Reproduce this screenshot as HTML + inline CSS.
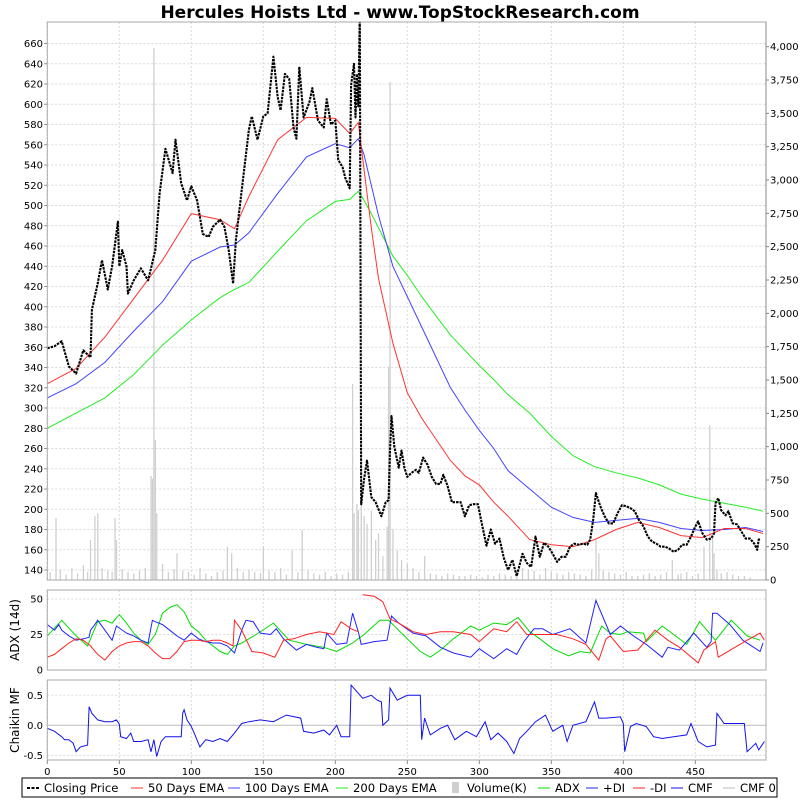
<!DOCTYPE html>
<html><head><meta charset="utf-8"><style>
html,body{margin:0;padding:0;background:#fff}
svg{display:block;font-family:"DejaVu Sans","Liberation Sans",sans-serif}
</style></head><body>
<svg id="chart" width="800" height="800" viewBox="0 0 800 800" xmlns="http://www.w3.org/2000/svg">
<rect width="800" height="800" fill="#fff"/>
<text x="400" y="18" text-anchor="middle" font-size="17" font-weight="bold">Hercules Hoists Ltd - www.TopStockResearch.com</text>
<defs>
<clipPath id="cMain"><rect x="47.3" y="22" width="719" height="558"/></clipPath>
<clipPath id="cAdx"><rect x="47.3" y="590" width="719" height="80"/></clipPath>
<clipPath id="cCmf"><rect x="47.3" y="680" width="719" height="80"/></clipPath>
</defs>
<g id="grid"></g>
<g id="marks"></g>
<g id="axes"></g>
<g id="legend"></g>
</svg>
<script>
// ---------- data ----------
const priceDays = [0,5,10,15,20,25,30,31,35,38,42,45,49,50,52,55,56,60,65,70,75,78,82,87,89,93,97,100,104,108,112,115,120,123,126,129,131,135,140,142,146,150,153,157,160,162,165,168,171,173,175,178,182,184,188,192,194,197,200,202,205,207,210,211,213,214,215,216,217,218,220,222,225,228,232,235,237,238,239,241,244,246,248,250,253,256,258,261,264,267,270,273,275,278,281,284,287,290,293,296,299,302,305,308,311,314,317,320,323,326,330,333,336,339,342,345,348,351,354,357,360,363,366,369,372,375,377,379,381,384,387,390,393,396,399,402,405,408,411,414,417,420,423,426,429,432,435,438,441,444,447,450,452,455,458,461,463,464,466,468,471,473,476,479,482,485,488,491,493,494,495];
const closePrice = [359,361,366,341,334,357,350,397,423,446,417,440,484,440,456,440,413,426,438,426,456,512,556,532,565,522,505,519,505,472,469,479,486,479,456,423,466,515,575,588,565,588,591,647,607,594,630,625,577,566,637,587,602,616,584,577,605,580,584,545,538,527,517,619,640,587,630,598,690,205,230,248,212,207,193,207,209,258,292,262,241,258,241,232,236,239,236,251,244,232,225,225,234,223,207,207,207,193,204,205,205,184,164,180,166,171,152,140,150,134,156,147,143,173,153,167,163,156,148,153,153,163,166,165,166,165,170,189,216,203,193,186,186,196,204,203,201,198,189,183,173,168,166,163,163,161,158,160,165,165,173,183,188,176,170,171,176,206,211,199,194,198,186,185,178,171,171,166,160,170,171];

const emaDays = [0,20,40,60,80,100,120,130,140,160,180,200,210,216,220,225,230,240,250,260,270,280,290,300,310,320,335,350,365,380,395,410,425,440,455,470,485,497];
const ema50  = [324,339,370,408,446,492,486,477,509,565,587,586,571,582,535,478,428,364,315,290,269,248,233,224,207,193,170,165,163,170,180,187,182,174,172,181,181,176];
const ema100 = [310,324,345,376,405,445,459,461,473,512,548,561,557,566,550,520,490,440,410,380,350,320,298,278,260,238,220,202,192,187,189,191,187,181,179,180,182,178];
const ema200 = [280,295,310,333,362,387,409,417,424,455,485,504,506,514,505,492,478,450,431,410,391,372,357,342,328,313,295,272,253,242,236,231,224,215,210,206,202,198];

const volDays = [2,6,9,13,17,21,25,28,30,33,35,38,42,45,47,48,52,56,60,64,68,72,73,74,75,76,80,84,88,90,94,98,102,106,110,114,118,122,125,128,132,136,140,144,148,150,154,158,162,166,170,174,177,181,185,189,193,197,201,205,209,212,213,215,216,218,220,222,225,228,230,233,236,237,238,240,243,246,250,254,258,262,266,270,274,278,282,286,290,294,298,302,306,310,314,318,322,326,330,334,338,342,346,350,354,358,362,366,370,374,378,381,383,386,390,394,398,402,406,410,414,418,422,426,430,434,438,440,444,448,452,456,460,462,463,465,468,472,476,480,484,488,492,495];
const volK = [60,465,80,40,90,50,110,60,300,480,500,90,70,60,465,300,80,60,50,70,90,780,760,3990,1050,500,120,60,80,200,70,60,40,90,50,30,60,70,250,200,90,60,80,60,50,250,70,60,90,40,220,60,375,70,50,40,60,30,50,40,60,1470,500,570,525,1150,480,420,520,300,350,180,400,1600,3735,380,220,150,120,90,60,180,50,40,30,50,40,30,30,40,30,20,40,30,50,40,30,60,90,80,70,40,90,60,50,40,60,50,40,30,80,300,200,70,60,50,40,60,30,30,40,50,30,40,60,150,40,50,60,30,50,250,1160,330,200,80,50,60,40,30,30,20];

const adxDays = [0,10,20,28,35,40,45,50,55,60,65,70,75,80,85,90,95,100,105,110,115,120,125,130,135,140,145,157,168,180,192,201,212,220,231,237,243,250,259,266,273,282,294,300,310,319,327,335,342,351,362,370,377,385,391,398,403,414,416,427,435,444,453,464,475,486,495];
const adxVals = [24,35,24,17,34,35,33,39,33,26,21,18,25,40,44,46,41,31,27,21,17,13,11,17,19,22,25,33,21,18,16,13,19,25,35,35,29,22,13,9,14,22,31,28,33,32,37,27,22,15,10,13,12,31,26,25,27,26,20,31,25,18,34,21,35,24,21];

const pdiDays = [0,5,8,10,15,20,25,29,30,33,35,40,45,48,55,60,65,70,73,75,80,85,90,95,100,105,110,115,120,125,130,135,138,143,148,155,159,164,173,180,187,192,194,201,208,212,216,218,227,236,239,244,254,263,273,282,294,300,310,319,326,331,338,344,351,363,374,381,391,398,407,416,427,431,439,449,458,461,462,465,474,483,495,497];
const pdiVals = [32,28,32,28,24,21,22,23,28,32,35,28,21,31,26,24,21,19,35,34,32,28,24,21,26,22,20,19,19,17,12,28,35,34,26,25,29,22,14,18,16,15,26,18,19,40,27,18,20,21,38,33,26,24,16,12,9,15,8,15,11,20,29,29,25,29,19,49,25,31,24,18,9,16,14,26,16,20,40,40,32,21,13,19];

const mdiDays = [0,5,10,15,20,25,30,35,40,45,50,55,60,65,70,75,80,85,90,95,100,105,110,115,120,125,129,130,135,142,150,158,164,171,180,189,199,204,211,216,217,219,227,233,238,244,254,263,273,282,294,300,310,319,326,333,342,354,365,374,383,388,391,400,410,416,422,431,439,452,456,464,466,476,486,495,498];
const mdiVals = [9,11,15,19,22,21,17,11,7,13,17,19,20,20,17,12,8,8,13,20,21,21,20,21,21,19,17,35,28,13,12,9,21,22,25,27,25,34,29,27,null,53,52,48,36,33,27,25,27,27,25,20,29,27,34,25,25,25,22,18,7,22,24,13,14,21,28,21,16,5,14,20,9,15,21,26,21];

const cmfDays = [0,5,10,12,15,18,20,23,28,29,31,35,40,45,48,50,51,55,58,60,65,70,72,74,76,79,82,90,93,94,95,97,100,102,106,110,115,120,125,130,135,140,148,157,166,176,178,185,192,196,201,204,210,211,215,219,225,229,232,233,237,238,243,250,259,260,262,266,273,278,283,291,298,304,308,313,319,324,328,333,339,346,351,358,361,365,374,380,383,388,398,400,401,405,409,416,421,427,435,444,447,452,458,464,465,470,474,484,486,492,494,498];
const cmfVals = [-0.05,-0.1,-0.19,-0.24,-0.24,-0.3,-0.44,-0.36,-0.33,0.31,0.2,0.09,0.06,0.06,0.09,0.02,-0.19,-0.22,-0.13,-0.27,-0.27,-0.24,-0.44,-0.24,-0.52,-0.27,-0.19,-0.19,-0.19,0.2,0.26,0.09,-0.02,-0.13,-0.36,-0.24,-0.27,-0.22,-0.27,-0.13,0.03,0.06,0.09,0.06,0.17,0.12,-0.1,-0.13,-0.08,-0.16,0.0,-0.19,-0.19,0.67,0.56,0.45,0.5,0.42,0.39,0.0,0.09,0.62,0.42,0.5,0.5,-0.24,0.12,-0.16,-0.05,0.0,-0.24,-0.1,-0.19,0.06,-0.24,-0.13,-0.27,-0.47,-0.22,-0.1,0.06,0.17,-0.1,0.0,-0.27,0.0,0.06,0.39,0.12,0.12,0.14,0.03,-0.44,-0.02,0.03,-0.02,-0.19,-0.22,-0.19,-0.16,0.03,-0.27,-0.36,-0.33,0.2,0.03,0.03,0.03,-0.44,-0.3,-0.41,-0.27];

const xTicks = [0,50,100,150,200,250,300,350,400,450];
const priceTicks = [140,160,180,200,220,240,260,280,300,320,340,360,380,400,420,440,460,480,500,520,540,560,580,600,620,640,660];
const volTicks = [0,250,500,750,1000,1250,1500,1750,2000,2250,2500,2750,3000,3250,3500,3750,4000];
const adxTicks = [0,25,50];
const cmfTicks = [0.5,0,-0.5];

// ---------- scales ----------
const NS = "http://www.w3.org/2000/svg";
const L = 47.3, R = 766;
const X = d => L + d * 1.44;
const YP = p => 570 - (p - 140) * 1.0125;
const YV = v => 580 - v * 0.13333;
const YA = v => 670 - v * 1.42;
const YC = v => 725.3 - v * 60;
function el(tag, attrs, parent, txt) {
  const e = document.createElementNS(NS, tag);
  for (const k in attrs) e.setAttribute(k, attrs[k]);
  if (txt !== undefined) e.textContent = txt;
  parent.appendChild(e);
  return e;
}
const grid = document.getElementById('grid');
const marks = document.getElementById('marks');
const axes = document.getElementById('axes');
function pathOf(days, vals, xs, ys) {
  let d = '', pen = false;
  for (let i = 0; i < days.length; i++) {
    if (vals[i] === null || vals[i] === undefined) { pen = false; continue; }
    d += (pen ? 'L' : 'M') + xs(days[i]).toFixed(1) + ',' + ys(vals[i]).toFixed(1);
    pen = true;
  }
  return d;
}

// panels
const panels = [[22, 580, 'main-panel'], [590, 670, 'adx-panel'], [680, 760, 'cmf-panel']];
panels.forEach(p => {
  const r = el('rect', {x: L, y: p[0], width: R - L, height: p[1] - p[0], fill: '#fff', stroke: 'none'}, grid);
  
  
  xTicks.forEach(t => {
    el('line', {x1: X(t), x2: X(t), y1: p[0], y2: p[1], stroke: '#d8d8d8', 'stroke-dasharray': '2,2', 'stroke-width': 1}, grid);
  });
});
priceTicks.forEach(t => {
  el('line', {x1: L, x2: R, y1: YP(t), y2: YP(t), stroke: '#d8d8d8', 'stroke-dasharray': '2,2'}, grid);
  const tx = el('text', {x: 43, y: YP(t) + 3.5, 'text-anchor': 'end', 'font-size': 10}, axes, String(t));
  
  
  el('line', {x1: L - 3, x2: L, y1: YP(t), y2: YP(t), stroke: '#888'}, axes);
});
volTicks.forEach(t => {
  const tx = el('text', {x: 770, y: YV(t) + 3.5, 'text-anchor': 'start', 'font-size': 10}, axes, t.toLocaleString('en-US'));
  
  
  el('line', {x1: R, x2: R + 3, y1: YV(t), y2: YV(t), stroke: '#888'}, axes);
});
adxTicks.forEach(t => {
  if (t > 0) el('line', {x1: L, x2: R, y1: YA(t), y2: YA(t), stroke: '#d8d8d8', 'stroke-dasharray': '2,2'}, grid);
  const tx = el('text', {x: 43, y: YA(t) + 3.5, 'text-anchor': 'end', 'font-size': 10}, axes, String(t));
  
  
});
cmfTicks.forEach(t => {
  el('line', {x1: L, x2: R, y1: YC(t), y2: YC(t), stroke: t === 0 ? '#bbb' : '#d8d8d8', 'stroke-dasharray': t === 0 ? 'none' : '2,2'}, grid);
  const tx = el('text', {x: 43, y: YC(t) + 3.5, 'text-anchor': 'end', 'font-size': 10}, axes, t.toFixed(1));
  
  
});
xTicks.forEach(t => {
  const tx = el('text', {x: X(t), y: 775, 'text-anchor': 'middle', 'font-size': 10}, axes, String(t));
  
  
  el('line', {x1: X(t), x2: X(t), y1: 760, y2: 764, stroke: '#888'}, axes);
});
panels.forEach(p => {
  el('rect', {x: L, y: p[0], width: R - L, height: p[1] - p[0], fill: 'none', stroke: '#aaa'}, axes);
});
el('line', {x1: R, x2: R, y1: 22, y2: 580, stroke: '#888'}, axes);
const t1 = el('text', {x: 0, y: 0, 'font-size': 12, 'text-anchor': 'middle', transform: 'translate(19,630) rotate(-90)'}, axes, 'ADX (14d)');


const t2 = el('text', {x: 0, y: 0, 'font-size': 12, 'text-anchor': 'middle', transform: 'translate(19,720) rotate(-90)'}, axes, 'Chaikin MF');



// main marks
const gMain = el('g', {'clip-path': 'url(#cMain)'}, marks);
for (let i = 0; i < volDays.length; i++) {
  const b = el('rect', {x: X(volDays[i]) - 0.6, y: YV(volK[i]), width: 1.3, height: 580 - YV(volK[i]), fill: '#cfcfcf'}, gMain);
  
  
}
[[ema200, '#22ee22', 'ema-200-line'], [ema100, '#4444ff', 'ema-100-line'], [ema50, '#ff3333', 'ema-50-line']].forEach(s => {
  const p = el('path', {d: pathOf(emaDays, s[0], X, YP), fill: 'none', stroke: s[1], 'stroke-width': 1}, gMain);
  
  
});
const cp = el('path', {d: pathOf(priceDays, closePrice, X, YP), fill: 'none', stroke: '#000', 'stroke-width': 2.1, 'stroke-dasharray': '2.5,1', 'stroke-linejoin': 'round'}, gMain);



// ADX marks
const gAdx = el('g', {'clip-path': 'url(#cAdx)'}, marks);
[[adxDays, adxVals, '#00dd00', 'adx-line'], [pdiDays, pdiVals, '#2222ff', 'plus-di-line'], [mdiDays, mdiVals, '#ff2222', 'minus-di-line']].forEach(s => {
  const p = el('path', {d: pathOf(s[0], s[1], X, YA), fill: 'none', stroke: s[2], 'stroke-width': 1}, gAdx);
  
  
});

// CMF marks
const gCmf = el('g', {'clip-path': 'url(#cCmf)'}, marks);
const cm = el('path', {d: pathOf(cmfDays, cmfVals, X, YC), fill: 'none', stroke: '#1111ee', 'stroke-width': 1}, gCmf);



// legend
const lg = document.getElementById('legend');
el('rect', {x: 22, y: 778, width: 755, height: 19, fill: '#fff', stroke: '#000', 'stroke-width': 1}, lg);
const items = [
  [27, 'Closing Price', 'dash', '#000'], [131, '50 Days EMA', 'line', '#ff3333'],
  [228, '100 Days EMA', 'line', '#4444ff'], [336, '200 Days EMA', 'line', '#22ee22'],
  [450, 'Volume(K)', 'bar', '#cfcfcf'], [538, 'ADX', 'line', '#00dd00'],
  [586, '+DI', 'line', '#2222ff'], [633, '-DI', 'line', '#ff2222'],
  [671, 'CMF', 'line', '#1111ee'], [723, 'CMF 0', 'line', '#bbb']
];
items.forEach(it => {
  const g = el('g', {}, lg);
  
  
  if (it[2] === 'bar') el('rect', {x: it[0] + 2, y: 782, width: 7, height: 11, fill: it[3]}, g);
  else el('line', {x1: it[0], x2: it[0] + 12, y1: 788, y2: 788, stroke: it[3], 'stroke-width': it[2] === 'dash' ? 2 : 1, 'stroke-dasharray': it[2] === 'dash' ? '3,1.5' : 'none'}, g);
  el('text', {x: it[0] + 17, y: 792, 'font-size': 11.6}, g, it[1]);
});
</script>
</body></html>
